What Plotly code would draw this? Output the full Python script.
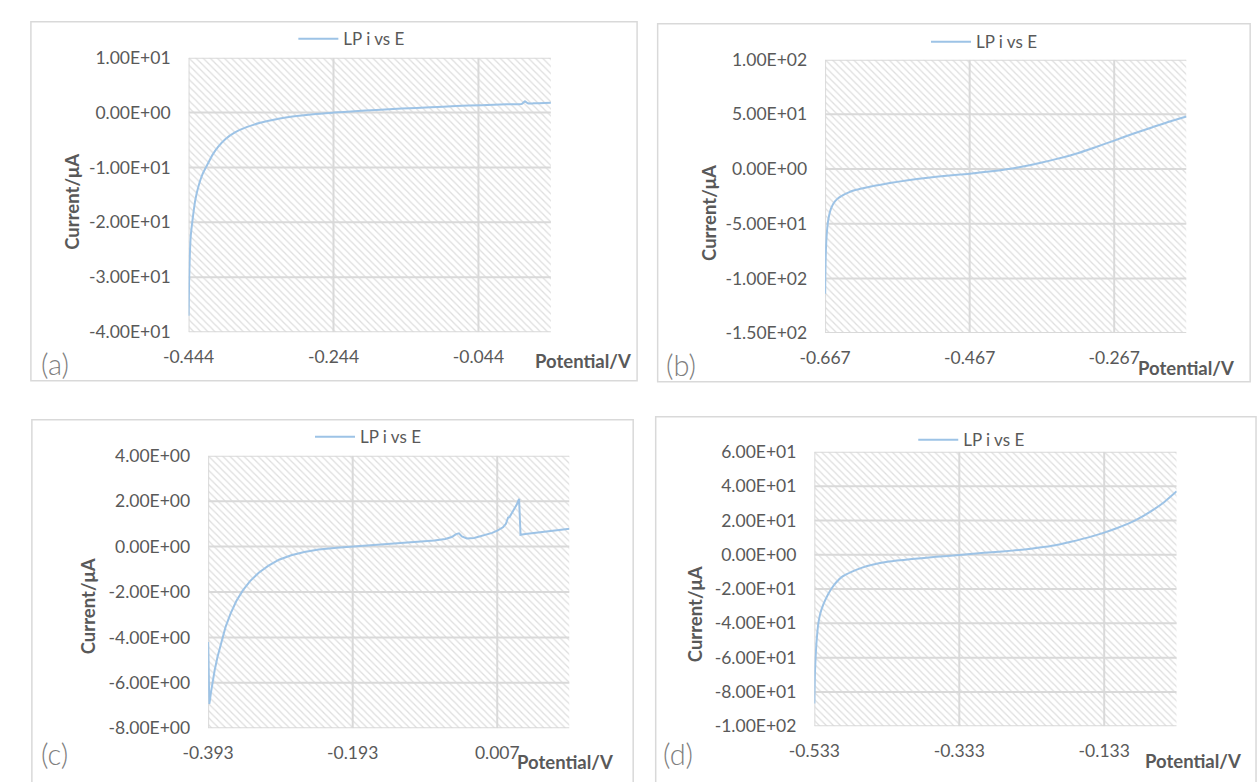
import plotly.graph_objects as go

W, H = 1257, 782

# ---------------- data ----------------
SERIES_NAME = "LP i vs E"

E_a = [-0.4440, -0.4433, -0.4424, -0.4410, -0.4380, -0.4348, -0.4305, -0.4250, -0.4185, -0.4110,
       -0.4030, -0.3930, -0.3800, -0.3640, -0.3450, -0.3230, -0.2980, -0.2720, -0.2440, -0.2150,
       -0.1850, -0.1500, -0.1100, -0.0750, -0.0400, -0.0050, 0.0160, 0.0200, 0.0240, 0.0320,
       0.0560]
I_a = [-37.0, -31.0, -26.5, -22.5, -19.0, -16.0, -13.5, -11.3, -9.6, -7.7,
       -6.2, -4.8, -3.6, -2.65, -1.85, -1.2, -0.68, -0.28, 0.0, 0.25,
       0.48, 0.73, 0.98, 1.18, 1.36, 1.50, 1.58, 2.05, 1.70, 1.68,
       1.78]

E_b = [-0.6670, -0.6668, -0.6664, -0.6658, -0.6648, -0.6634, -0.6615, -0.6590, -0.6555, -0.6505,
       -0.6440, -0.6350, -0.6240, -0.6100, -0.5900, -0.5650, -0.5400, -0.5100, -0.4800, -0.4670,
       -0.4500, -0.4300, -0.4130, -0.3950, -0.3700, -0.3450, -0.3200, -0.2950, -0.2670, -0.2400,
       -0.2150, -0.1900, -0.1670]
I_b = [-114, -100, -85, -72, -60, -50, -42.5, -36.5, -31.5, -27.5,
       -24.5, -21.5, -19.0, -16.8, -14.3, -11.5, -9.2, -6.8, -5.0, -4.3,
       -3.0, -1.5, 0.0, 2.0, 5.5, 9.5, 14.0, 19.5, 26.0, 32.5,
       38.0, 43.5, 48.0]

E_c = [-0.3930, -0.3918, -0.3914, -0.3905, -0.3890, -0.3870, -0.3840, -0.3800, -0.3750, -0.3690,
       -0.3620, -0.3540, -0.3450, -0.3350, -0.3230, -0.3100, -0.2950, -0.2780, -0.2600, -0.2400,
       -0.2150, -0.1930, -0.1650, -0.1350, -0.1050, -0.0800, -0.0650, -0.0560, -0.0500, -0.0460,
       -0.0420, -0.0350, -0.0250, -0.0130, 0.0000, 0.0070, 0.0150, 0.0190, 0.0220, 0.0240,
       0.0270, 0.0300, 0.0340, 0.0372, 0.0392, 0.0460, 0.0700, 0.1070]
I_c = [-4.2, -6.2, -6.93, -6.75, -6.4, -6.0, -5.45, -4.85, -4.2, -3.55,
       -2.95, -2.4, -1.93, -1.52, -1.15, -0.85, -0.58, -0.38, -0.24, -0.13,
       -0.05, 0.0, 0.06, 0.13, 0.2, 0.27, 0.33, 0.42, 0.55, 0.58,
       0.45, 0.36, 0.38, 0.47, 0.6, 0.7, 0.85, 1.0, 1.28, 1.3,
       1.45, 1.6, 1.85, 2.1, 0.52, 0.55, 0.64, 0.78]

E_d = [-0.5330, -0.5327, -0.5322, -0.5314, -0.5302, -0.5288, -0.5275, -0.5250, -0.5220, -0.5180,
       -0.5138, -0.5090, -0.5030, -0.4950, -0.4810, -0.4670, -0.4530, -0.4300, -0.3980, -0.3650,
       -0.3330, -0.3100, -0.2880, -0.2600, -0.2340, -0.2050, -0.1790, -0.1560, -0.1330, -0.1150,
       -0.0960, -0.0800, -0.0650, -0.0500, -0.0330]
I_d = [-86.7, -78, -69, -61, -52, -45, -40, -34.5, -30.5, -26.5,
       -22.9, -19.5, -16.2, -12.9, -9.8, -7.5, -5.8, -4.0, -2.5, -1.2,
       -0.2, 0.7, 1.5, 2.4, 3.5, 5.2, 7.6, 10.0, 12.9, 15.6,
       18.9, 22.4, 26.3, 30.8, 37.0]

# axis ranges and ticks
XR_a = [-0.444, 0.056]
YR_a = [-40, 10]
XT_a = [-0.444, -0.244, -0.044]
XTT_a = ["-0.444", "-0.244", "-0.044"]
YT_a = [10, 0, -10, -20, -30, -40]
YTT_a = ["1.00E+01", "0.00E+00", "-1.00E+01", "-2.00E+01", "-3.00E+01", "-4.00E+01"]

XR_b = [-0.667, -0.167]
YR_b = [-150, 100]
XT_b = [-0.667, -0.467, -0.267]
XTT_b = ["-0.667", "-0.467", "-0.267"]
YT_b = [100, 50, 0, -50, -100, -150]
YTT_b = ["1.00E+02", "5.00E+01", "0.00E+00", "-5.00E+01", "-1.00E+02", "-1.50E+02"]

XR_c = [-0.393, 0.107]
YR_c = [-8, 4]
XT_c = [-0.393, -0.193, 0.007]
XTT_c = ["-0.393", "-0.193", "0.007"]
YT_c = [4, 2, 0, -2, -4, -6, -8]
YTT_c = ["4.00E+00", "2.00E+00", "0.00E+00", "-2.00E+00", "-4.00E+00", "-6.00E+00", "-8.00E+00"]

XR_d = [-0.533, -0.033]
YR_d = [-100, 60]
XT_d = [-0.533, -0.333, -0.133]
XTT_d = ["-0.533", "-0.333", "-0.133"]
YT_d = [60, 40, 20, 0, -20, -40, -60, -80, -100]
YTT_d = ["6.00E+01", "4.00E+01", "2.00E+01", "0.00E+00", "-2.00E+01", "-4.00E+01",
         "-6.00E+01", "-8.00E+01", "-1.00E+02"]

PANEL_LABELS = ["(a)", "(b)", "(c)", "(d)"]
X_TITLE = "Potential/V"
Y_TITLE = "Current/μA"

# ---------------- layout (pixels) ----------------
series = [
    (E_a, I_a, XR_a, YR_a, XT_a, XTT_a, YT_a, YTT_a, "spline"),
    (E_b, I_b, XR_b, YR_b, XT_b, XTT_b, YT_b, YTT_b, "spline"),
    (E_c, I_c, XR_c, YR_c, XT_c, XTT_c, YT_c, YTT_c, "linear"),
    (E_d, I_d, XR_d, YR_d, XT_d, XTT_d, YT_d, YTT_d, "spline"),
]
plot_px = [(166, 536, 48, 330), (816, 1185, 50, 331), (186, 555, 457, 737), (805, 1175, 453, 735)]
frame_px = [(5, 624, 11, 380), (645, 1250, 13, 381), (6, 620, 420, 800), (643, 1256, 417, 800)]
legend_px = [(279, 29), (925, 32), (296, 438), (912, 441)]
ytitle_px = [(47, 196), (698, 208), (63, 612), (683, 620)]
plabel_px = [(30, 362), (669, 363), (29, 763), (666, 763)]
xtitle_px = [(569, 360), (1185, 367), (550, 772), (1192, 771)]

FONT = "Lato, 'Open Sans', sans-serif"
TXT = "#595959"
GRID = "#d9d9d9"
LINE = "#9dc3e6"


def px(x):
    return x / W


def py(y):
    return 1 - y / H


fig = go.Figure()
layout = dict(width=W, height=H, margin=dict(l=0, r=0, t=0, b=0),
              paper_bgcolor="white", plot_bgcolor="white", showlegend=True,
              shapes=[], annotations=[])

for k, (E, I, xr, yr, xt, xtt, yt, ytt, shp) in enumerate(series):
    n = "" if k == 0 else str(k + 1)
    xa, ya = "x" + n, "y" + n
    lg = "legend" + n
    x0, x1, y0, y1 = plot_px[k]

    layout["xaxis" + n] = dict(domain=[px(x0), px(x1)], range=xr, anchor=ya,
                               tickvals=xt, ticktext=xtt, showgrid=False, zeroline=False,
                               showline=False, ticks="", ticklabelstandoff=12,
                               tickfont=dict(family=FONT, size=17.5, color=TXT), fixedrange=True)
    layout["yaxis" + n] = dict(domain=[py(y1), py(y0)], range=yr, anchor=xa,
                               tickvals=yt, ticktext=ytt, showgrid=False, zeroline=False,
                               showline=False, ticks="", ticklabelstandoff=17,
                               tickfont=dict(family=FONT, size=17.5, color=TXT), fixedrange=True)

    # hatched plot area
    fig.add_trace(go.Scatter(
        x=[xr[0], xr[1], xr[1], xr[0], xr[0]], y=[yr[0], yr[0], yr[1], yr[1], yr[0]],
        xaxis=xa, yaxis=ya, mode="lines", line=dict(width=0), fill="toself",
        fillcolor="rgba(0,0,0,0)",
        fillpattern=dict(shape="\\", fgcolor="#bdbdbd", bgcolor="rgba(255,255,255,0)",
                         size=5, solidity=0.25),
        showlegend=False, hoverinfo="skip"))

    # gridlines
    gx, gy = [], []
    for t in xt:
        gx += [t, t, None]
        gy += [yr[0], yr[1], None]
    for t in yt:
        gx += [xr[0], xr[1], None]
        gy += [t, t, None]
    fig.add_trace(go.Scatter(x=gx, y=gy, xaxis=xa, yaxis=ya, mode="lines",
                             line=dict(color=GRID, width=2), showlegend=False,
                             hoverinfo="skip"))

    # data
    fig.add_trace(go.Scatter(x=E, y=I, xaxis=xa, yaxis=ya, mode="lines",
                             line=dict(color=LINE, width=2, shape=shp, smoothing=0.6),
                             name=SERIES_NAME, legend=lg, showlegend=True))

    lx, ly = legend_px[k]
    layout[lg] = dict(x=px(lx - 6), y=py(ly), xanchor="left", yanchor="middle",
                      bgcolor="rgba(0,0,0,0)", borderwidth=0, itemwidth=40,
                      font=dict(family=FONT, size=17, color=TXT))

    fx0, fx1, fy0, fy1 = frame_px[k]
    layout["shapes"].append(dict(type="rect", xref="paper", yref="paper",
                                 x0=px(fx0), x1=px(fx1), y0=py(fy1), y1=py(fy0),
                                 line=dict(color=GRID, width=1.5), fillcolor="rgba(0,0,0,0)"))

    tx, ty = ytitle_px[k]
    layout["annotations"].append(dict(text=Y_TITLE, xref="paper", yref="paper",
                                      x=px(tx), y=py(ty), xanchor="center", yanchor="middle",
                                      textangle=-90, showarrow=False,
                                      font=dict(family=FONT, size=18.5, color=TXT, weight="bold")))
    tx, ty = xtitle_px[k]
    layout["annotations"].append(dict(text=X_TITLE, xref="paper", yref="paper",
                                      x=px(tx), y=py(ty), xanchor="center", yanchor="middle",
                                      showarrow=False,
                                      font=dict(family=FONT, size=18.5, color=TXT, weight="bold")))
    tx, ty = plabel_px[k]
    layout["annotations"].append(dict(text=PANEL_LABELS[k], xref="paper", yref="paper",
                                      x=px(tx), y=py(ty), xanchor="center", yanchor="middle",
                                      showarrow=False,
                                      font=dict(family=FONT, size=29, color="#7f7f7f", weight=300)))

fig.update_layout(**layout)
fig.write_html("out.html",
               config={"displayModeBar": False},
               post_script="document.body.style.margin='0';"
                           "document.body.style.overflow='hidden';"
                           "document.documentElement.style.overflow='hidden';")
